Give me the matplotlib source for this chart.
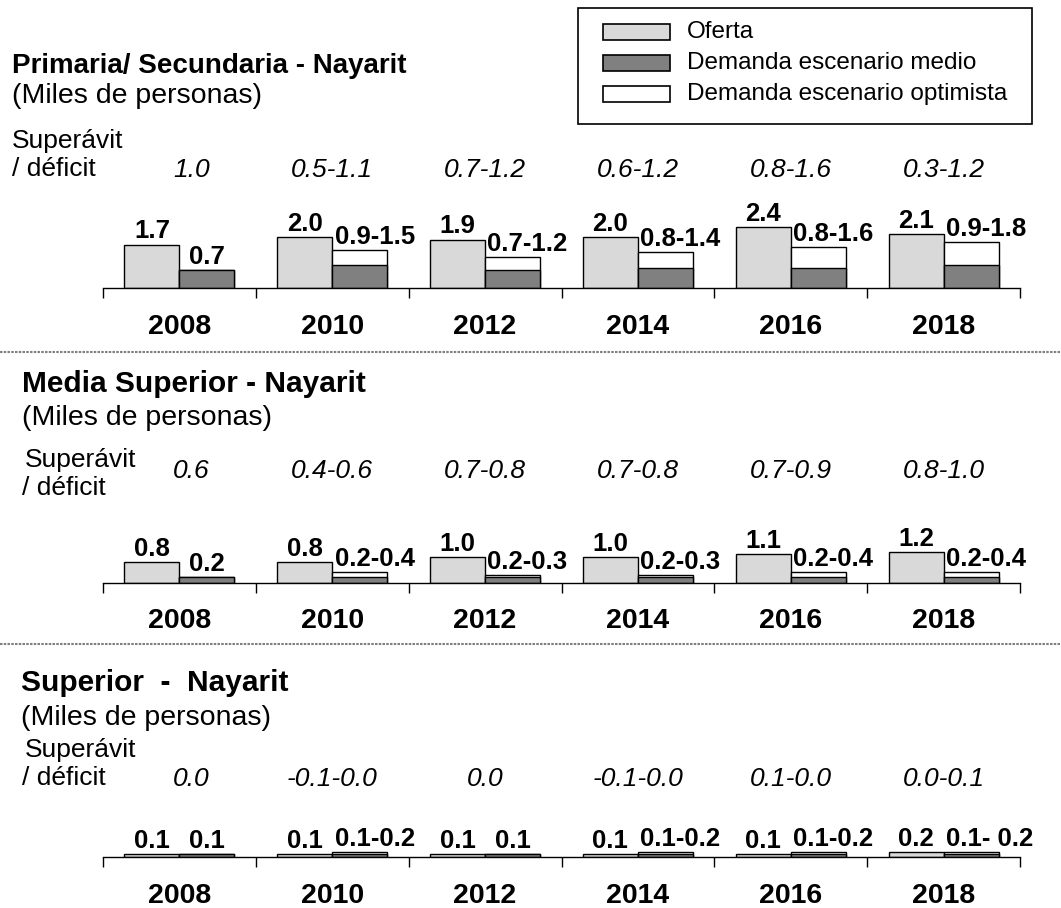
from matplotlib import pyplot as plt
from matplotlib import transforms
from matplotlib.patches import Rectangle

plt.rcParams['font.family'] = ['Liberation Sans', 'DejaVu Sans']

years = ['2008', '2010', '2012', '2014', '2016', '2018']

# Primaria / Secundaria
oferta_1 = [1.7, 2.0, 1.9, 2.0, 2.4, 2.1]
medio_1 = [0.7, 0.9, 0.7, 0.8, 0.8, 0.9]
optimista_1 = [0.7, 1.5, 1.2, 1.4, 1.6, 1.8]
oferta_lbl_1 = ['1.7', '2.0', '1.9', '2.0', '2.4', '2.1']
demanda_lbl_1 = ['0.7', '0.9-1.5', '0.7-1.2', '0.8-1.4', '0.8-1.6', '0.9-1.8']
balance_1 = ['1.0', '0.5-1.1', '0.7-1.2', '0.6-1.2', '0.8-1.6', '0.3-1.2']

# Media Superior
oferta_2 = [0.8, 0.8, 1.0, 1.0, 1.1, 1.2]
medio_2 = [0.2, 0.2, 0.2, 0.2, 0.2, 0.2]
optimista_2 = [0.2, 0.4, 0.3, 0.3, 0.4, 0.4]
oferta_lbl_2 = ['0.8', '0.8', '1.0', '1.0', '1.1', '1.2']
demanda_lbl_2 = ['0.2', '0.2-0.4', '0.2-0.3', '0.2-0.3', '0.2-0.4', '0.2-0.4']
balance_2 = ['0.6', '0.4-0.6', '0.7-0.8', '0.7-0.8', '0.7-0.9', '0.8-1.0']

# Superior
oferta_3 = [0.1, 0.1, 0.1, 0.1, 0.1, 0.2]
medio_3 = [0.1, 0.1, 0.1, 0.1, 0.1, 0.1]
optimista_3 = [0.1, 0.2, 0.1, 0.2, 0.2, 0.2]
oferta_lbl_3 = ['0.1', '0.1', '0.1', '0.1', '0.1', '0.2']
demanda_lbl_3 = ['0.1', '0.1-0.2', '0.1', '0.1-0.2', '0.1-0.2', '0.1- 0.2']
balance_3 = ['0.0', '-0.1-0.0', '0.0', '-0.1-0.0', '0.1-0.0', '0.0-0.1']

titles = ['Primaria/ Secundaria - Nayarit', 'Media Superior - Nayarit', 'Superior  -  Nayarit']

panels = [
    (oferta_1, medio_1, optimista_1, oferta_lbl_1, demanda_lbl_1, balance_1),
    (oferta_2, medio_2, optimista_2, oferta_lbl_2, demanda_lbl_2, balance_2),
    (oferta_3, medio_3, optimista_3, oferta_lbl_3, demanda_lbl_3, balance_3),
]

C_OFERTA = '#d9d9d9'
C_MEDIO = '#808080'
C_OPT = '#ffffff'

W, H = 1061, 908
PX_UNIT = 25.5      # pixels per thousand persons
AX_H = 70


def fx(px):
    return px / W


def fy(px):
    return 1 - px / H


fig = plt.figure(figsize=(W / 100, H / 100), dpi=100)

# layout per panel (pixel positions from the top)
baselines = [288, 582.5, 857]
title_y = [73, 392, 691]
title_x = [12, 22, 21]
title_size = [20, 21.5, 21.5]
sub_y = [103, 425, 725]
sup_y = [148, 467, 757]
sup_x = [12, 25, 25]
def_y = [176, 495, 785]
def_x = [12, 22, 22]
bal_y = [177, 478, 786]

for p, (oferta, medio, opt, of_lbl, dem_lbl, bal) in enumerate(panels):
    bl = baselines[p]
    ax = fig.add_axes([fx(103), fy(bl), fx(1020) - fx(103), AX_H / H])
    ax.set_xlim(0, 6)
    ax.set_ylim(0, AX_H / PX_UNIT)

    x = list(range(len(years)))
    xo = [i + 0.32 for i in x]
    xd = [i + 0.68 for i in x]
    ax.bar(xo, oferta, width=0.36, color=C_OFERTA, edgecolor='black', linewidth=1.0)
    ax.bar(xd, opt, width=0.36, color=C_OPT, edgecolor='black', linewidth=1.0)
    ax.bar(xd, medio, width=0.36, color=C_MEDIO, edgecolor='black', linewidth=1.0)

    for i in x:
        ax.annotate(of_lbl[i], (xo[i], oferta[i]), xytext=(0, 4.5), textcoords='offset points',
                    ha='center', va='baseline', fontsize=18.5, fontweight='bold')
        top = max(medio[i], opt[i])
        if '-' in dem_lbl[i]:
            ax.annotate(dem_lbl[i], (xd[i] - 0.165, top), xytext=(0, 4.5), textcoords='offset points',
                        ha='left', va='baseline', fontsize=18.5, fontweight='bold')
        else:
            ax.annotate(dem_lbl[i], (xd[i], top), xytext=(0, 4.5), textcoords='offset points',
                        ha='center', va='baseline', fontsize=18.5, fontweight='bold')

    trans = transforms.blended_transform_factory(ax.transData, fig.transFigure)
    for i in x:
        ax.text(i + 0.5, fy(bl + 46), years[i], transform=trans, ha='center', va='baseline',
                fontsize=20.5, fontweight='bold')
        shift = 0.08 if i == 0 else 0.0
        ax.text(i + 0.5 + shift, fy(bal_y[p]), bal[i], transform=trans, ha='center', va='baseline',
                fontsize=19, fontstyle='italic')

    for s in ['top', 'right', 'left']:
        ax.spines[s].set_visible(False)
    ax.spines['bottom'].set_linewidth(1.0)
    ax.set_yticks([])
    ax.set_xticks(range(7))
    ax.tick_params(axis='x', length=7, width=1.0, direction='out', labelbottom=False)
    ax.patch.set_alpha(0)

    fig.text(fx(title_x[p]), fy(title_y[p]), titles[p], fontsize=title_size[p], fontweight='bold',
             va='baseline')
    fig.text(fx(title_x[p]), fy(sub_y[p]), '(Miles de personas)', fontsize=20.5, va='baseline')
    fig.text(fx(sup_x[p]), fy(sup_y[p]), 'Superávit', fontsize=19, va='baseline')
    fig.text(fx(def_x[p]), fy(def_y[p]), '/ déficit', fontsize=19, va='baseline')

# dashed separators
for yy in [352, 644]:
    fig.add_artist(plt.Line2D([0, 1], [fy(yy), fy(yy)], color='#808080', linewidth=1.5,
                              linestyle=(0, (1.2, 0.6))))

# legend box
fig.add_artist(Rectangle((fx(578), fy(124)), fx(1032) - fx(578), (124 - 8) / H,
                         transform=fig.transFigure, facecolor='white', edgecolor='black', linewidth=1.2))
leg_items = [('Oferta', C_OFERTA), ('Demanda escenario medio', C_MEDIO),
             ('Demanda escenario optimista', C_OPT)]
for k, (name, col) in enumerate(leg_items):
    yc = [32, 63, 94][k]
    fig.add_artist(Rectangle((fx(603), fy(yc + 8)), fx(670) - fx(603), 16 / H,
                             transform=fig.transFigure, facecolor=col, edgecolor='black', linewidth=1.2))
    fig.text(fx(687), fy(yc), name, fontsize=17.5, va='center')

plt.savefig('out.png', dpi=100)
